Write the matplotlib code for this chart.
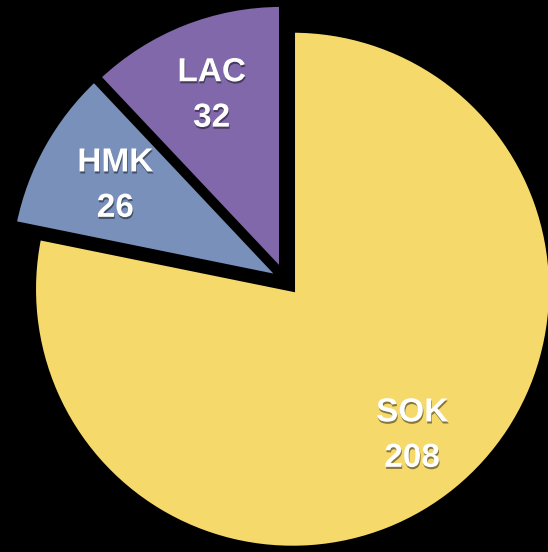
import matplotlib.pyplot as plt
import matplotlib.patheffects as pe

names = ['SOK', 'HMK', 'LAC']
counts = [208, 26, 32]
colors = ['#F5D96B', '#7890BA', '#8168AA']
# explode offsets in data units (= pixels here)
explode = [11.9, 5, 9.5]
# the two small slices are drawn a bit bigger than the big one
radius_scale = [1.0, 1.05, 1.03]

R = 259
center = (285, 272)

fig = plt.figure(figsize=(5.48, 5.52), dpi=100, facecolor='black')
ax = fig.add_axes([0, 0, 1, 1])
ax.set_facecolor('black')

labels = [f'{n}\n{c}' for n, c in zip(names, counts)]
wedges, texts = ax.pie(counts, labels=labels, colors=colors, explode=explode,
                       startangle=90, counterclock=False, radius=R, center=center,
                       labeldistance=0.73,
                       wedgeprops=dict(edgecolor='black', linewidth=3.6))

for w, k in zip(wedges, radius_scale):
    w.set_radius(R * k)

for t in texts:
    t.set_horizontalalignment('center')
    t.set_verticalalignment('center')
    t.set_color('white')
    t.set_fontsize(24)
    t.set_fontweight('bold')
    t.set_family('Liberation Sans')
    t.set_linespacing(1.6)
    t.set_path_effects([pe.withSimplePatchShadow(offset=(0.5, -1.5), shadow_rgbFace='black', alpha=0.45)])

ax.set_xlim(0, 548)
ax.set_ylim(0, 552)
ax.set_aspect('equal')
ax.axis('off')

plt.savefig('out.png', dpi=100, facecolor='black')
